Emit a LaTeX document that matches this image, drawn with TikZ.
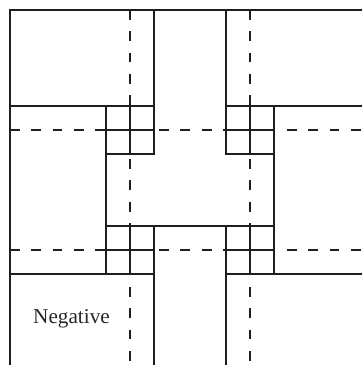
\documentclass[tikz,border=0pt]{standalone}
\usepackage{fontspec}
\setmainfont{Liberation Serif}
\begin{document}
\begin{tikzpicture}[x=1pt,y=-1pt,
  solidline/.style={line width=2pt, line join=miter, draw=black!88},
  guide/.style={line width=2pt, draw=black!88, dash pattern=on 9.8pt off 11.5pt}]
\useasboundingbox (0,0) rectangle (362,365);
% dashed guide lines
\draw[guide] (130,10) -- (130,365);
\draw[guide] (250,10) -- (250,365);
\draw[guide] (10,130) -- (362,130);
\draw[guide] (10,250) -- (362,250);
% outer frame
\draw[solidline] (362,10) -- (10,10) -- (10,365);
% top-left block
\draw[solidline] (10,106) -- (154,106);
\draw[solidline] (154,10) -- (154,154) -- (106,154);
\draw[solidline] (106,106) -- (106,274);
% top-right block
\draw[solidline] (226,106) -- (362,106);
\draw[solidline] (226,10) -- (226,154) -- (274,154);
\draw[solidline] (274,106) -- (274,274);
% center
\draw[solidline] (106,226) -- (274,226);
% bottom blocks
\draw[solidline] (10,274) -- (154,274);
\draw[solidline] (154,226) -- (154,365);
\draw[solidline] (226,226) -- (226,365);
\draw[solidline] (226,274) -- (362,274);
% solid crosses in the small squares
\foreach \cx in {130,250}{
  \foreach \cy in {130,250}{
    \draw[solidline] (\cx,\cy-24) -- (\cx,\cy+24);
    \draw[solidline] (\cx-24,\cy) -- (\cx+24,\cy);
  }
}
\node[anchor=base, inner sep=0pt, text=black!85, font=\fontsize{21.2}{25}\selectfont] (neg) at (71.5,323) {Negative};
\end{tikzpicture}
\end{document}
